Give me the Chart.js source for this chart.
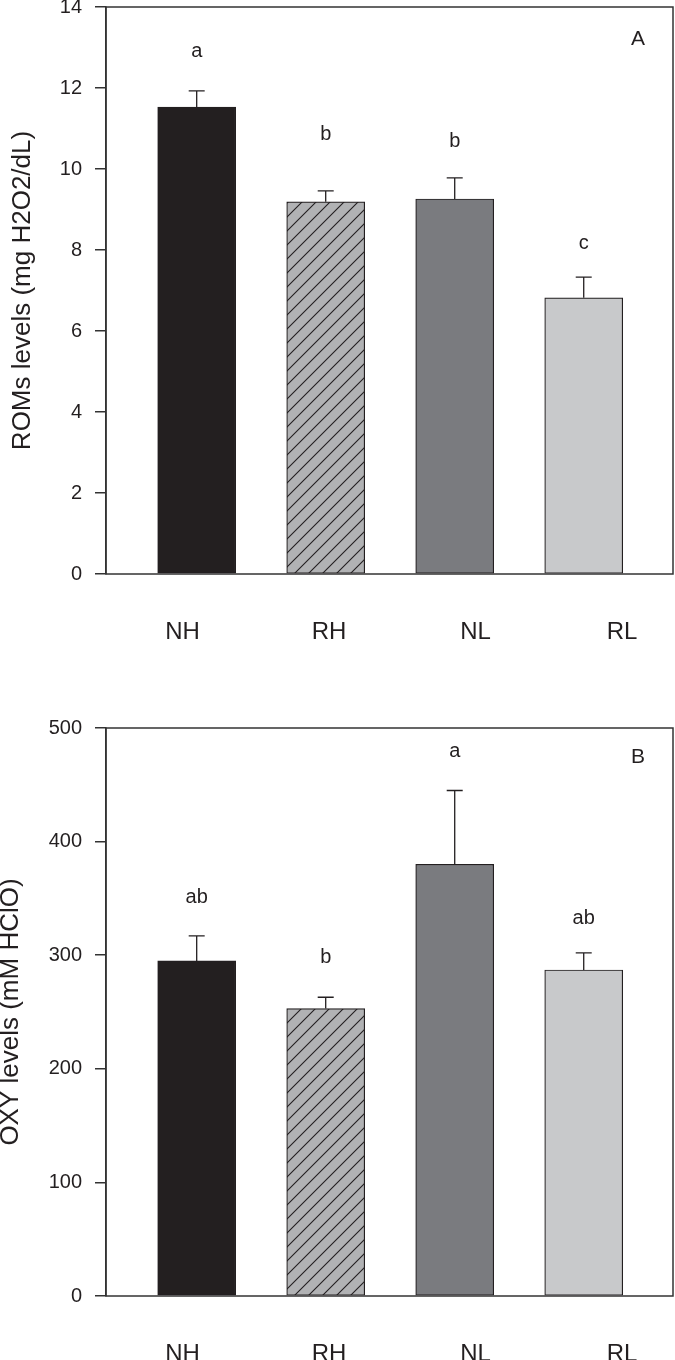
<!DOCTYPE html>
<html>
<head>
  <script src="https://cdn.jsdelivr.net/npm/chart.js"></script>
  <style>
    body { margin: 0; background: #fff; }
    .panel { position: absolute; left: 0; width: 675px; height: 680px; }
  </style>
</head>
<body>
  <div class="panel" style="top: 0;"><canvas id="romsChart" width="675" height="680"></canvas></div>
  <div class="panel" style="top: 680px;"><canvas id="oxyChart" width="675" height="680"></canvas></div>

  <script>
    const categories = ['NH', 'RH', 'NL', 'RL'];

    // panel A - ROMs
    const romsMeans = [11.53, 9.19, 9.26, 6.82];
    const romsErrors = [0.40, 0.27, 0.52, 0.51];
    const romsLetters = ['a', 'b', 'b', 'c'];
    const romsLetterY = [12.9, 10.85, 10.67, 8.15];

    // panel B - OXY
    const oxyMeans = [295, 253, 380, 287];
    const oxyErrors = [22, 10, 65, 15];
    const oxyLetters = ['ab', 'b', 'a', 'ab'];
    const oxyLetterY = [351, 298, 479, 332];

    const ink = '#231f20';
    const family = "'Liberation Sans', Arial, sans-serif";

    // diagonal hatch for the RH bar
    function hatchFill(ctx) {
      const s = 14;
      const c = document.createElement('canvas');
      c.width = s; c.height = s;
      const g = c.getContext('2d');
      g.fillStyle = '#b1b2b4';
      g.fillRect(0, 0, s, s);
      g.strokeStyle = ink;
      g.lineWidth = 1.1;
      g.beginPath();
      g.moveTo(-1, s + 1); g.lineTo(s + 1, -1);
      g.moveTo(-1, 1); g.lineTo(1, -1);
      g.moveTo(s - 1, s + 1); g.lineTo(s + 1, s - 1);
      g.stroke();
      return ctx.createPattern(c, 'repeat');
    }

    function makeChart(id, p) {
      const ctx = document.getElementById(id).getContext('2d');
      const fills = [ink, hatchFill(ctx), '#7a7b7f', '#c8c9cb'];

      // error bars, letters, panel tag and frame
      const extras = {
        id: 'extras',
        afterDatasetsDraw(chart) {
          const meta = chart.getDatasetMeta(0);
          const y = chart.scales.y;
          const c = chart.ctx;
          c.save();
          c.strokeStyle = ink;
          c.lineWidth = 1.3;
          meta.data.forEach((bar, i) => {
            const top = y.getPixelForValue(p.means[i] + p.errors[i]);
            c.beginPath();
            c.moveTo(bar.x, bar.y);
            c.lineTo(bar.x, top);
            c.moveTo(bar.x - 8, top);
            c.lineTo(bar.x + 8, top);
            c.stroke();
          });
          c.fillStyle = ink;
          c.textAlign = 'center';
          c.textBaseline = 'middle';
          c.font = '20px ' + family;
          meta.data.forEach((bar, i) => {
            c.fillText(p.letters[i], bar.x, y.getPixelForValue(p.letterY[i]));
          });
          c.font = '21px ' + family;
          c.fillText(p.panel, chart.scales.x.getPixelForValue(4.42), y.getPixelForValue(p.panelY));
          const a = chart.chartArea;
          c.lineWidth = 1.5;
          c.strokeStyle = '#333';
          c.strokeRect(a.left, a.top, a.right - a.left, a.bottom - a.top);
          c.restore();
        }
      };

      return new Chart(ctx, {
        type: 'bar',
        data: {
          datasets: [{
            data: p.means.map((v, i) => ({ x: i + 1, y: v })),
            xAxisID: 'x',
            yAxisID: 'y',
            backgroundColor: fills,
            borderColor: ink,
            borderWidth: 1.2,
            borderSkipped: false,
            barThickness: 78,
          }]
        },
        options: {
          responsive: false,
          animation: false,
          layout: { padding: { top: p.topPad, right: 2, left: 0, bottom: 0 } },
          plugins: {
            legend: { display: false },
            tooltip: { enabled: false },
          },
          scales: {
            x: { type: 'linear', offset: false, min: 0.297, max: 4.692, display: false },
            cat: {
              type: 'linear',
              position: 'bottom',
              offset: false,
              min: 0.478,
              max: 4.348,
              afterBuildTicks: s => { s.ticks = categories.map((c, i) => ({ value: i + 1 })); },
              afterFit: s => { s.height = p.bottomSpace; s.paddingLeft = 0; s.paddingRight = 0; },
              ticks: {
                autoSkip: false,
                maxRotation: 0,
                padding: 44,
                color: ink,
                font: { family: family, size: 24 },
                callback: v => categories[v - 1],
              },
              grid: { display: false, drawTicks: false, offset: false },
              border: { display: false },
            },
            y: {
              min: 0,
              max: p.yMax,
              afterFit: s => { s.width = 106; s.paddingTop = 0; s.paddingBottom = 0; },
              ticks: {
                stepSize: p.yStep,
                padding: 13,
                color: ink,
                font: { family: family, size: 20 },
              },
              grid: { drawOnChartArea: false, tickLength: 11, color: '#333', lineWidth: 1.5 },
              border: { color: '#333', width: 1.5 },
              title: {
                display: true,
                text: p.yTitle,
                color: ink,
                font: { family: family, size: 26, lineHeight: 0.85 },
                padding: { top: p.titlePad, bottom: 0 },
              },
            },
          },
        },
        plugins: [extras],
      });
    }

    makeChart('romsChart', {
      means: romsMeans, errors: romsErrors, letters: romsLetters, letterY: romsLetterY,
      yMax: 14, yStep: 2, yTitle: 'ROMs levels (mg H2O2/dL)',
      panel: 'A', panelY: 13.2, topPad: 7, bottomSpace: 106, titlePad: 12,
    });

    makeChart('oxyChart', {
      means: oxyMeans, errors: oxyErrors, letters: oxyLetters, letterY: oxyLetterY,
      yMax: 500, yStep: 100, yTitle: 'OXY levels (mM HClO)',
      panel: 'B', panelY: 474, topPad: 48, bottomSpace: 64, titlePad: 0,
    });
  </script>
</body>
</html>
